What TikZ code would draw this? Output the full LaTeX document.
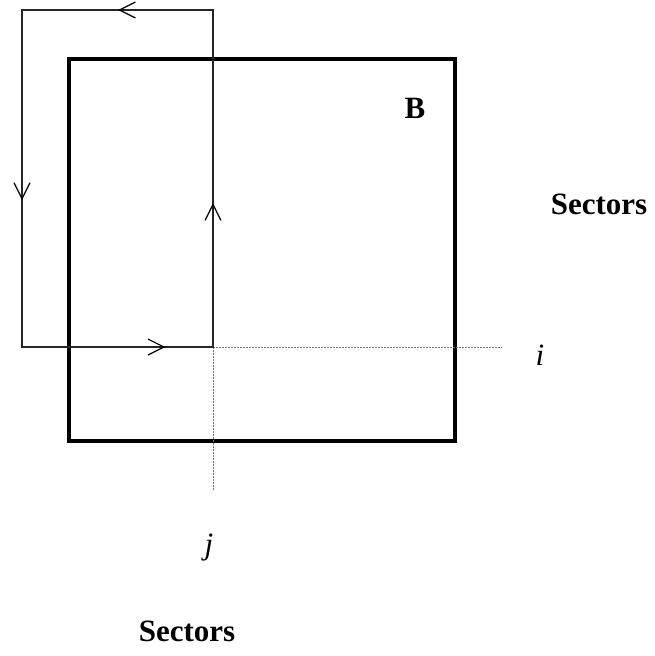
\documentclass[tikz,border=0pt]{standalone}
\usepackage{fontspec}
\setmainfont{Liberation Serif}
\usetikzlibrary{arrows.meta,decorations.markings}
\begin{document}
\begin{tikzpicture}[x=1pt,y=-1pt,
  box/.style={line width=4pt,line join=miter},
  loopline/.style={line width=1.1pt,black!85,line cap=rect},
  axis/.style={line width=1pt,black!55,dash pattern=on 2pt off 1pt},
  lbl/.style={font=\fontsize{31}{36}\selectfont\bfseries,inner sep=0pt},
  ital/.style={font=\fontsize{31}{36}\selectfont\itshape,inner sep=0pt},
  tipat/.style={postaction={decorate,decoration={markings,
     mark=at position #1 with {\arrow[black,line width=1.2pt]{Straight Barb[length=16pt,width=16pt]}}}}}]
\useasboundingbox (0,0) rectangle (655,656);
% square
\coordinate (s1) at (69,59);
\coordinate (s2) at (455,441);
\draw[box] (s1) rectangle (s2);
% loop corners
\coordinate (o) at (213,347);
\coordinate (tr) at (213,10);
\coordinate (tl) at (22,10);
\coordinate (bl) at (22,347);
\coordinate (ie) at (502,347);
\coordinate (je) at (213,491);
% axes
\draw[axis] (o) -- (ie);
\draw[axis] (o) -- (je);
% loop with arrows
\draw[loopline,tipat=0.427] (o) -- (tr);
\draw[loopline,tipat=0.497] (tr) -- (tl);
\draw[loopline,tipat=0.564] (tl) -- (bl);
\draw[loopline,tipat=0.75] (bl) -- (o);
% labels
\node[lbl] (B) at (415,108) {B};
\node[lbl] (sec1) at (599,204) {Sectors};
\node[ital] (i) at (540,355) {i};
\node[ital] (j) at (209,548) {j};
\node[lbl] (sec2) at (187,631) {Sectors};
\end{tikzpicture}
\end{document}
